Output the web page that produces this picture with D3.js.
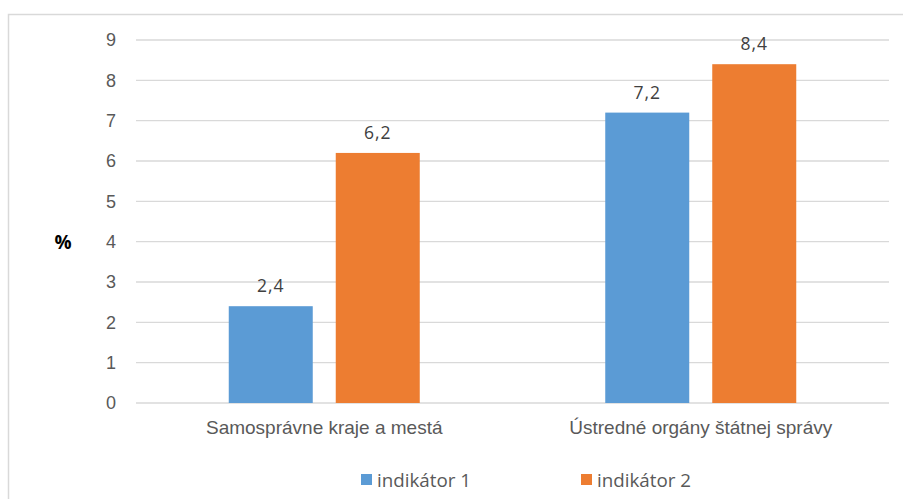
<!DOCTYPE html>
<html><head><meta charset="utf-8">
<script src="https://cdn.jsdelivr.net/npm/d3@7"></script>
<style>
html,body{margin:0;padding:0;background:#fff;}
svg{display:block;font-family:"Open Sans","Noto Sans",sans-serif;}
</style></head>
<body>
<svg id="chart" width="903" height="499"></svg>
<script>
const categories = ["Samosprávne kraje a mestá", "Ústredné orgány štátnej správy"];
const seriesNames = ["indikátor 1", "indikátor 2"];
const indikator1 = [2.4, 7.2];
const indikator2 = [6.2, 8.4];
const yTicks = [0, 1, 2, 3, 4, 5, 6, 7, 8, 9];
const colors = ["#5B9BD5", "#ED7D31"];

(function() {
const series = [indikator1, indikator2];
const svg = d3.select("#chart");

// outer frame
svg.append("rect").attr("x", 8.5).attr("y", 14.5).attr("width", 920).attr("height", 520)
  .attr("fill", "none").attr("stroke", "#D9D9D9").attr("stroke-width", 1.5);

const mLeft = 136, mRight = 889, mTop = 40, mBottom = 403;
const x0 = d3.scaleBand().domain(categories).range([mLeft, mRight]).paddingInner(0).paddingOuter(0);
const x1 = d3.scaleBand().domain(seriesNames).range([0, 191]).paddingInner(23 / 107).paddingOuter(0);
const y = d3.scaleLinear().domain([0, 9]).range([mBottom, mTop]);

// gridlines
svg.append("g").selectAll("line").data(yTicks).join("line")
  .attr("x1", mLeft).attr("x2", mRight)
  .attr("y1", d => y(d)).attr("y2", d => y(d))
  .attr("stroke", "#D9D9D9").attr("stroke-width", 1.3);

// y axis labels
const yAxis = d3.axisLeft(y).tickValues(yTicks).tickSize(0).tickPadding(0).tickFormat(d3.format("d"));
const ya = svg.append("g").attr("transform", `translate(${mLeft - 20},0)`).call(yAxis);
ya.select(".domain").remove();
ya.selectAll("text").attr("font-size", 18).attr("fill", "#595959").attr("font-family", null);

// % label
svg.append("text").attr("x", 63).attr("y", 242).attr("text-anchor", "middle").attr("dominant-baseline", "central")
  .attr("font-size", 19).attr("font-weight", "bold").attr("fill", "#000").text("%");

// bars
const groups = svg.append("g").selectAll("g").data(categories).join("g")
  .attr("transform", d => `translate(${x0(d) + x0.bandwidth() / 2 - 95.5},0)`);
groups.each(function(cat, ci) {
  const g = d3.select(this);
  seriesNames.forEach((s, si) => {
    const v = series[si][ci];
    g.append("rect").attr("x", x1(s)).attr("y", y(v)).attr("width", x1.bandwidth())
      .attr("height", y(0) - y(v)).attr("fill", colors[si]);
    g.append("text").attr("x", x1(s) + x1.bandwidth() / 2).attr("y", y(v) - 21)
      .attr("text-anchor", "middle").attr("dominant-baseline", "central")
      .attr("font-size", 17.5).attr("letter-spacing", 1).attr("fill", "#404040")
      .text(d3.format(".1f")(v).replace(".", ","));
  });
});

// x axis labels
const xAxis = d3.axisBottom(x0).tickSize(0).tickPadding(0);
const xa = svg.append("g").attr("transform", `translate(0,${mBottom + 17})`).call(xAxis);
xa.select(".domain").remove();
xa.selectAll("text").attr("font-size", 19).attr("fill", "#595959").attr("font-family", null);

// legend
const legendX = [361, 581];
const leg = svg.append("g").selectAll("g").data(seriesNames).join("g")
  .attr("transform", (d, i) => `translate(${legendX[i]},480)`);
leg.append("rect").attr("x", 0).attr("y", -6).attr("width", 11).attr("height", 11).attr("fill", (d, i) => colors[i]);
leg.append("text").attr("x", 16).attr("y", 0).attr("dominant-baseline", "central")
  .attr("font-size", 18.8).attr("fill", "#595959").text(d => d);
})();
</script>
</body></html>
